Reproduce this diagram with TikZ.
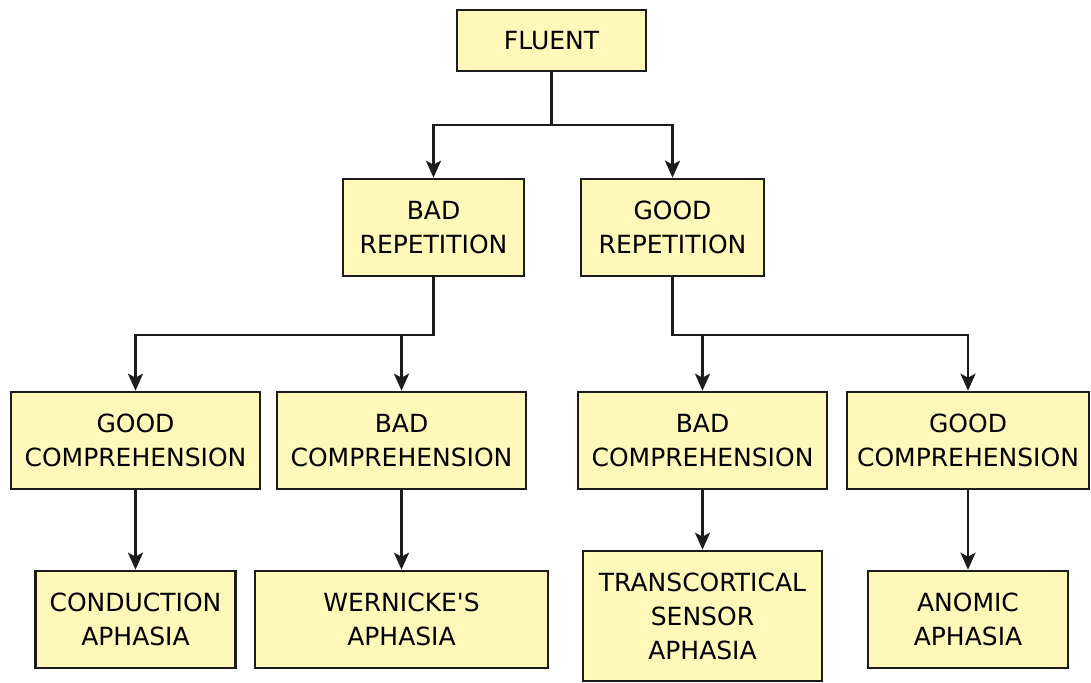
\documentclass[tikz,border=0pt]{standalone}
\usepackage{fontspec}
\setmainfont{DejaVu Sans}
\usetikzlibrary{arrows.meta}
\definecolor{boxfill}{RGB}{255,248,185}
\definecolor{boxline}{RGB}{28,28,28}
\begin{document}
\begin{tikzpicture}[x=1pt,y=-1pt,
  box/.style={draw=boxline, fill=boxfill, line width=2.6pt, align=center,
    inner sep=0pt, font=\fontsize{25}{34}\selectfont},
  link/.style={draw=boxline, line width=2.8pt,
    -{Stealth[length=17pt,width=15pt,inset=4pt]}}]
\useasboundingbox (0,0) rectangle (1091,682);

% top level
\node[box, minimum width=189pt, minimum height=61pt] (fluent) at (551.5,40.5) {FLUENT};

% repetition
\node[box, minimum width=181pt, minimum height=97pt] (badrep) at (433.5,227.5) {BAD\\REPETITION};
\node[box, minimum width=183pt, minimum height=97pt] (goodrep) at (672.5,227.5) {GOOD\\REPETITION};

% comprehension
\node[box, minimum width=249pt, minimum height=97pt] (gc1) at (135.5,440.5) {GOOD\\COMPREHENSION};
\node[box, minimum width=249pt, minimum height=97pt] (bc1) at (401.5,440.5) {BAD\\COMPREHENSION};
\node[box, minimum width=249pt, minimum height=97pt] (bc2) at (702.5,440.5) {BAD\\COMPREHENSION};
\node[box, minimum width=242pt, minimum height=97pt] (gc2) at (968,440.5) {GOOD\\COMPREHENSION};

% outcomes
\node[box, minimum width=200pt, minimum height=97pt] (cond) at (135.5,619.5) {CONDUCTION\\APHASIA};
\node[box, minimum width=293pt, minimum height=97pt] (wern) at (401.5,619.5) {WERNICKE\textquotesingle S\\APHASIA};
\node[box, minimum width=239pt, minimum height=130pt] (trans) at (702.5,616) {TRANSCORTICAL\\SENSOR\\APHASIA};
\node[box, minimum width=200pt, minimum height=97pt] (anomic) at (968,619.5) {ANOMIC\\APHASIA};

% branch points
\coordinate (j1) at (551.5,125);
\coordinate (j2) at (433.5,335);
\coordinate (j3) at (672.5,335);

% connectors: the outer branch of each fork carries the corner joins
\draw[link] (fluent.south) -- (j1) -| (badrep.north);
\draw[link] (j1) -| (goodrep.north);

\draw[link] (badrep.south) -- (j2) -| (gc1.north);
\draw[link] (j2) -| (bc1.north);

\draw[link] (goodrep.south) -- (j3) -| (gc2.north);
\draw[link] (j3) -| (bc2.north);

\draw[link] (gc1.south) -- (cond.north);
\draw[link] (bc1.south) -- (wern.north);
\draw[link] (bc2.south) -- (trans.north);
\draw[link] (gc2.south) -- (anomic.north);
\end{tikzpicture}
\end{document}
